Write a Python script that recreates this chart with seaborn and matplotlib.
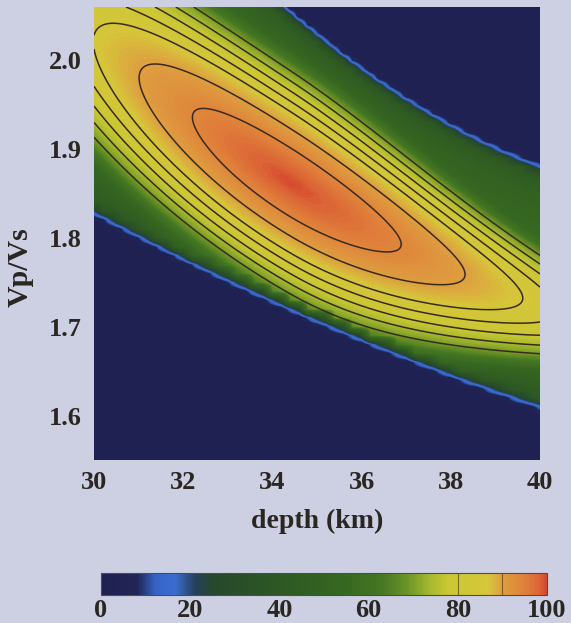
import numpy as np
import matplotlib
matplotlib.use("Agg")
import matplotlib.pyplot as plt
from matplotlib.colors import LinearSegmentedColormap
import seaborn as sns

# ---- axes, ticks and contour levels ----
depth_ticks = [30, 32, 34, 36, 38, 40]
vpvs_ticks = [1.6, 1.7, 1.8, 1.9, 2.0]
cbar_ticks = [0, 20, 40, 60, 80, 100]
contour_levels = [70, 74, 78, 82, 86, 90, 94]
depth_range = (30.0, 40.0)
vpvs_range = (1.55, 2.06)

# ---- H-k stack description ----
# trade-off ridge through the maximum (depth in km, Vp/Vs)
ridge_depth = [30.07, 30.96, 32.09, 34.42, 36.75, 38.36, 39.44]
ridge_vpvs = [2.018, 1.984, 1.936, 1.865, 1.794, 1.761, 1.734]
peak_depth = 34.42
peak_value = 100.0
# half-axes of the 94 % contour (along the ridge: shallow / deep side; across it)
scale_shallow = 2.66
scale_deep = 2.83
half_width = 0.66
narrow_deep = 0.106       # the stack gets narrower towards the deep end
drop = 6.0
drop_power = 1.15
knee1, slope1 = 2.0, 5.5
knee2, slope2 = 3.3, 14.0
# limits of the stacking band (below / above the ridge)
lower_edge_depth = [30.07, 34.84, 38.20, 40.00]
lower_edge_vpvs = [1.835, 1.717, 1.652, 1.617]
upper_edge_depth = [34.04, 35.16, 38.21, 40.00]
upper_edge_vpvs = [2.060, 2.018, 1.910, 1.873]
band_floor = 40.0
band_rise = 16.0

# sampling of the stack
depth_step = 0.2
vpvs_step = 0.01

KS = 0.05  # Vp/Vs units per km on screen


def stack(H, K):
    rp = np.polyfit(ridge_depth, ridge_vpvs, 2)
    kr = np.polyval(rp, H)
    kr0 = np.polyval(rp, peak_depth)
    slope = np.polyval(np.polyder(rp), H) / KS
    cosphi = 1.0 / np.sqrt(1.0 + slope ** 2)
    u = np.sign(H - peak_depth) * np.hypot(H - peak_depth, (kr - kr0) / KS)
    v = (K - kr) / KS * cosphi
    ua = u / np.where(u < 0, scale_shallow, scale_deep)
    width = half_width / (1 + narrow_deep * np.clip(ua, 0, None) ** 2)
    r = np.hypot(ua, v / width)
    peak = (peak_value - drop * r ** drop_power
            - slope1 * np.clip(r - knee1, 0, None)
            - slope2 * np.clip(r - knee2, 0, None))
    lo = np.polyval(np.polyfit(lower_edge_depth, lower_edge_vpvs, 2), H)
    hi = np.polyval(np.polyfit(upper_edge_depth, upper_edge_vpvs, 2), H)
    d = np.minimum(K - lo, hi - K)
    band = band_floor + band_rise * (1 - np.exp(-np.clip(d, 0, None) / 0.03))
    # smooth transition between the peak and the band plateau
    t = 2.0
    val = t * np.logaddexp(peak / t, band / t)
    val = np.where(d < 0, band_floor * np.clip(1 + d / 0.013, 0, 1), val)
    return np.clip(val, 0, 100)


sns.set_theme(style="white")
plt.rcParams["font.family"] = ["Liberation Serif", "DejaVu Serif"]
plt.rcParams["font.weight"] = "bold"

bg = "#cdd0e3"
ink = "#2a2622"

cmap = LinearSegmentedColormap.from_list("hk", [
    (0.00, "#1f2152"), (0.08, "#212556"), (0.12, "#3463c4"), (0.165, "#3b6dd0"),
    (0.21, "#24405a"), (0.25, "#27482c"), (0.40, "#2d5823"), (0.55, "#376821"),
    (0.63, "#457622"), (0.69, "#6e9626"), (0.74, "#a8ba2e"), (0.78, "#cac834"),
    (0.87, "#d6c63a"), (0.90, "#dea040"), (0.955, "#e07e3a"), (0.985, "#dc6436"),
    (1.00, "#d4482e")])

fig = plt.figure(figsize=(5.71, 6.23), dpi=100, facecolor=bg)
ax = fig.add_axes([94 / 571, 1 - 460 / 623, 446 / 571, 453 / 623])

Hg = np.arange(depth_range[0], depth_range[1] + 1e-6, depth_step)
Kg = np.arange(vpvs_range[0], vpvs_range[1] + 1e-6, vpvs_step)
HH, KK = np.meshgrid(Hg, Kg)
Z = stack(HH, KK)

im = ax.imshow(Z, origin="lower", aspect="auto", cmap=cmap, vmin=0, vmax=100,
               extent=[Hg[0] - depth_step / 2, Hg[-1] + depth_step / 2,
                       Kg[0] - vpvs_step / 2, Kg[-1] + vpvs_step / 2],
               interpolation="bilinear", interpolation_stage="data")

Hf = np.linspace(*depth_range, 500)
Kf = np.linspace(*vpvs_range, 500)
HF, KF = np.meshgrid(Hf, Kf)
ax.contour(HF, KF, stack(HF, KF), levels=contour_levels, colors="#3a2a1e",
           linewidths=1.1)

ax.set_xlim(*depth_range)
ax.set_ylim(*vpvs_range)
ax.set_xticks(depth_ticks)
ax.set_yticks(vpvs_ticks)
ax.set_yticklabels([f"{t:.1f}" for t in vpvs_ticks])
ax.tick_params(length=0, labelsize=19, colors=ink)
ax.tick_params(axis="y", pad=9)
ax.tick_params(axis="x", pad=8)
for s in ax.spines.values():
    s.set_visible(False)
ax.set_xlabel("depth (km)", fontsize=20, fontweight="bold", color=ink)
ax.set_ylabel("Vp/Vs", fontsize=21.5, fontweight="bold", color=ink)
ax.xaxis.set_label_coords(0.5, -0.108)
ax.yaxis.set_label_coords(-0.135, 0.425)

cax = fig.add_axes([101 / 571, 1 - 595 / 623, 446 / 571, 22 / 623])
cb = fig.colorbar(im, cax=cax, orientation="horizontal", ticks=cbar_ticks)
cb.ax.tick_params(length=0, labelsize=19, colors=ink, pad=3)
cb.outline.set_edgecolor("#4a4a5a")
cb.outline.set_linewidth(0.8)
for lv in (80, 90):
    cax.axvline(lv, color="#3a2a1e", lw=0.8, alpha=0.6)

fig.savefig("out.png", dpi=100, facecolor=bg)
